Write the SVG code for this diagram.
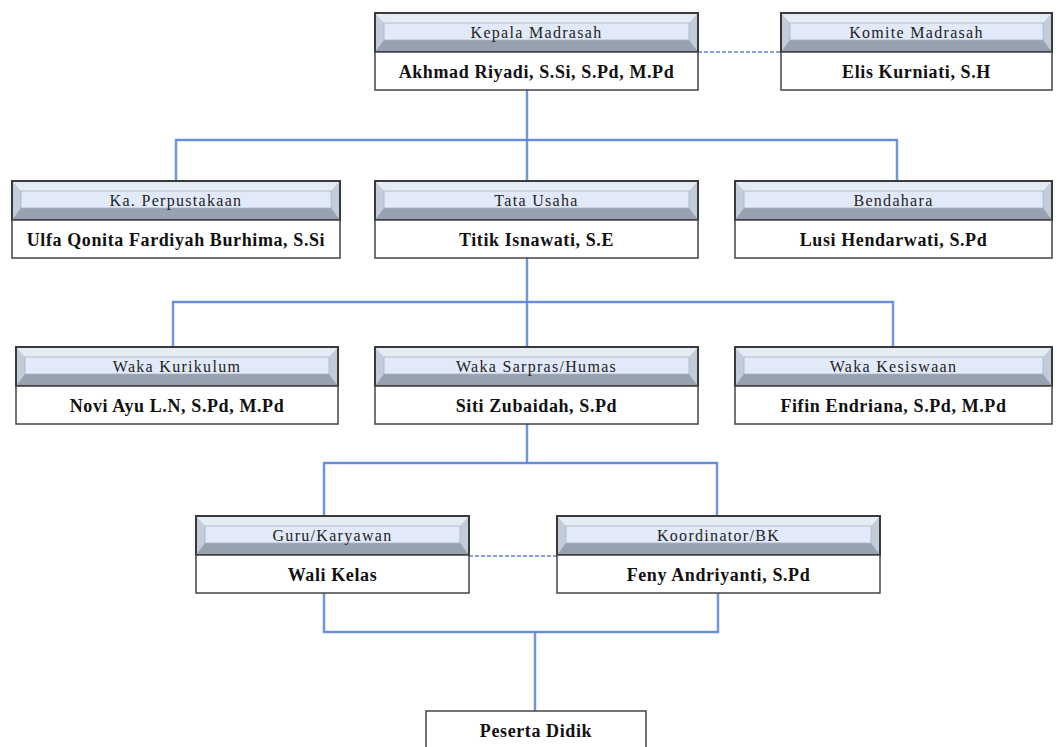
<svg xmlns="http://www.w3.org/2000/svg" width="1057" height="747" viewBox="0 0 1057 747">
<defs>
<style>
.side{fill:#c3ccd9}
.top{fill:#e6ecf5}
.bot{fill:#98a1af}
.inner{fill:#e2eafa;stroke:#aab3c2;stroke-width:0.8}
.hdr{fill:none;stroke:#3a3a3a;stroke-width:2}
.body{fill:#ffffff;stroke:#444;stroke-width:1.5}
.ht{font-family:"Liberation Serif",serif;font-size:16px;letter-spacing:1.3px;fill:#222;text-anchor:middle}
.bt{font-family:"Liberation Serif",serif;font-size:18px;font-weight:bold;letter-spacing:0.6px;fill:#111;text-anchor:middle}
.halo{fill:none;stroke:#b9cdf0;stroke-width:3}
.line{fill:none;stroke:#4a78cf;stroke-width:1.3}
.dash{fill:none;stroke:#5b86d6;stroke-width:1.5;stroke-dasharray:4 2}
</style>
</defs>
<rect width="1057" height="747" fill="#ffffff"/>
<g id="connectors">
<path class="halo" d="M527,90V181M176,181V140H897V181M527,258V347M173,347V302H893V347M527,424V463M324,516V463H717V516M324,593V632H718V593M535,632V711"/>
<path class="line" d="M527,90V181M176,181V140H897V181M527,258V347M173,347V302H893V347M527,424V463M324,516V463H717V516M324,593V632H718V593M535,632V711"/>
<path class="dash" d="M698,52H781M469,556H557"/>
</g>
<g id="kepala">
<rect class="side" x="375" y="13" width="323" height="39"/>
<polygon class="top" points="375,13 698,13 689,23 384,23"/>
<polygon class="bot" points="375,52 384,40 689,40 698,52"/>
<rect class="inner" x="384" y="23" width="305" height="17"/>
<rect class="hdr" x="375" y="13" width="323" height="39"/>
<text class="ht" x="536.5" y="38">Kepala Madrasah</text>
<rect class="body" x="375" y="52" width="323" height="38"/>
<text class="bt" x="536.5" y="78">Akhmad Riyadi, S.Si, S.Pd, M.Pd</text>
</g>
<g id="komite">
<rect class="side" x="781" y="13" width="271" height="39"/>
<polygon class="top" points="781,13 1052,13 1043,23 790,23"/>
<polygon class="bot" points="781,52 790,40 1043,40 1052,52"/>
<rect class="inner" x="790" y="23" width="253" height="17"/>
<rect class="hdr" x="781" y="13" width="271" height="39"/>
<text class="ht" x="916.5" y="38">Komite Madrasah</text>
<rect class="body" x="781" y="52" width="271" height="38"/>
<text class="bt" x="916.5" y="78">Elis Kurniati, S.H</text>
</g>
<g id="perpustakaan">
<rect class="side" x="12" y="181" width="328" height="39"/>
<polygon class="top" points="12,181 340,181 331,191 21,191"/>
<polygon class="bot" points="12,220 21,208 331,208 340,220"/>
<rect class="inner" x="21" y="191" width="310" height="17"/>
<rect class="hdr" x="12" y="181" width="328" height="39"/>
<text class="ht" x="176" y="206">Ka. Perpustakaan</text>
<rect class="body" x="12" y="220" width="328" height="38"/>
<text class="bt" x="176" y="246">Ulfa Qonita Fardiyah Burhima, S.Si</text>
</g>
<g id="tatausaha">
<rect class="side" x="375" y="181" width="323" height="39"/>
<polygon class="top" points="375,181 698,181 689,191 384,191"/>
<polygon class="bot" points="375,220 384,208 689,208 698,220"/>
<rect class="inner" x="384" y="191" width="305" height="17"/>
<rect class="hdr" x="375" y="181" width="323" height="39"/>
<text class="ht" x="536.5" y="206">Tata Usaha</text>
<rect class="body" x="375" y="220" width="323" height="38"/>
<text class="bt" x="536.5" y="246">Titik Isnawati, S.E</text>
</g>
<g id="bendahara">
<rect class="side" x="735" y="181" width="317" height="39"/>
<polygon class="top" points="735,181 1052,181 1043,191 744,191"/>
<polygon class="bot" points="735,220 744,208 1043,208 1052,220"/>
<rect class="inner" x="744" y="191" width="299" height="17"/>
<rect class="hdr" x="735" y="181" width="317" height="39"/>
<text class="ht" x="893.5" y="206">Bendahara</text>
<rect class="body" x="735" y="220" width="317" height="38"/>
<text class="bt" x="893.5" y="246">Lusi Hendarwati, S.Pd</text>
</g>
<g id="kurikulum">
<rect class="side" x="16" y="347" width="322" height="39"/>
<polygon class="top" points="16,347 338,347 329,357 25,357"/>
<polygon class="bot" points="16,386 25,374 329,374 338,386"/>
<rect class="inner" x="25" y="357" width="304" height="17"/>
<rect class="hdr" x="16" y="347" width="322" height="39"/>
<text class="ht" x="177" y="372">Waka Kurikulum</text>
<rect class="body" x="16" y="386" width="322" height="38"/>
<text class="bt" x="177" y="412">Novi Ayu L.N, S.Pd, M.Pd</text>
</g>
<g id="sarpras">
<rect class="side" x="375" y="347" width="323" height="39"/>
<polygon class="top" points="375,347 698,347 689,357 384,357"/>
<polygon class="bot" points="375,386 384,374 689,374 698,386"/>
<rect class="inner" x="384" y="357" width="305" height="17"/>
<rect class="hdr" x="375" y="347" width="323" height="39"/>
<text class="ht" x="536.5" y="372">Waka Sarpras/Humas</text>
<rect class="body" x="375" y="386" width="323" height="38"/>
<text class="bt" x="536.5" y="412">Siti Zubaidah, S.Pd</text>
</g>
<g id="kesiswaan">
<rect class="side" x="735" y="347" width="317" height="39"/>
<polygon class="top" points="735,347 1052,347 1043,357 744,357"/>
<polygon class="bot" points="735,386 744,374 1043,374 1052,386"/>
<rect class="inner" x="744" y="357" width="299" height="17"/>
<rect class="hdr" x="735" y="347" width="317" height="39"/>
<text class="ht" x="893.5" y="372">Waka Kesiswaan</text>
<rect class="body" x="735" y="386" width="317" height="38"/>
<text class="bt" x="893.5" y="412">Fifin Endriana, S.Pd, M.Pd</text>
</g>
<g id="guru">
<rect class="side" x="196" y="516" width="273" height="39"/>
<polygon class="top" points="196,516 469,516 460,526 205,526"/>
<polygon class="bot" points="196,555 205,543 460,543 469,555"/>
<rect class="inner" x="205" y="526" width="255" height="17"/>
<rect class="hdr" x="196" y="516" width="273" height="39"/>
<text class="ht" x="332.5" y="541">Guru/Karyawan</text>
<rect class="body" x="196" y="555" width="273" height="38"/>
<text class="bt" x="332.5" y="581">Wali Kelas</text>
</g>
<g id="koordinator">
<rect class="side" x="557" y="516" width="323" height="39"/>
<polygon class="top" points="557,516 880,516 871,526 566,526"/>
<polygon class="bot" points="557,555 566,543 871,543 880,555"/>
<rect class="inner" x="566" y="526" width="305" height="17"/>
<rect class="hdr" x="557" y="516" width="323" height="39"/>
<text class="ht" x="718.5" y="541">Koordinator/BK</text>
<rect class="body" x="557" y="555" width="323" height="38"/>
<text class="bt" x="718.5" y="581">Feny Andriyanti, S.Pd</text>
</g>
<g id="peserta">
<rect class="body" x="426" y="711" width="220" height="40"/>
<text class="bt" x="536" y="737">Peserta Didik</text>
</g>
</svg>
